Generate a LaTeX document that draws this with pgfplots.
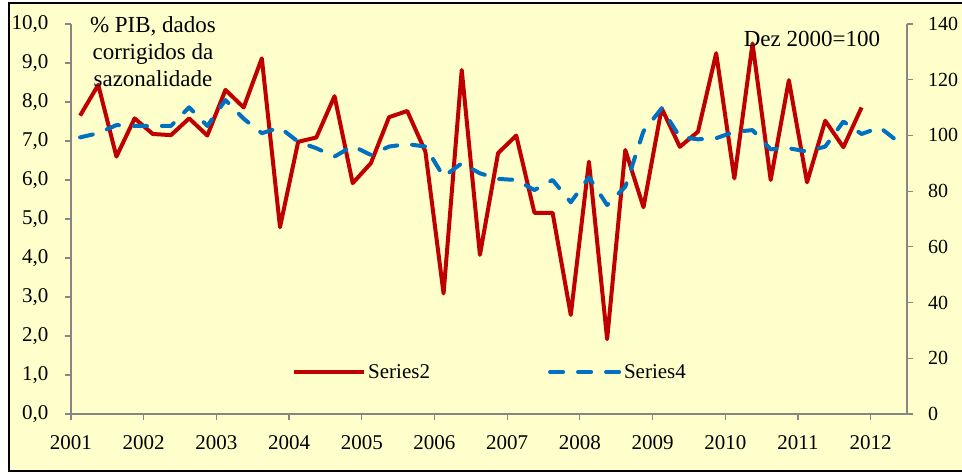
\documentclass[border=0pt]{standalone}
\usepackage{fontspec}
\setmainfont{Liberation Serif}
\usepackage{pgfplots}
\usepackage{pgfplotstable}
\pgfplotsset{compat=1.18}
\definecolor{bg}{HTML}{FFFFCC}
\definecolor{sred}{HTML}{C00000}
\definecolor{sblue}{HTML}{0070C0}
\definecolor{axgray}{HTML}{868686}

\pgfplotstableread{
x y
0.5 7.65
1.5 8.44
2.5 6.60
3.5 7.58
4.5 7.18
5.5 7.15
6.5 7.58
7.5 7.14
8.5 8.31
9.5 7.86
10.5 9.12
11.5 4.79
12.5 6.98
13.5 7.09
14.5 8.15
15.5 5.92
16.5 6.43
17.5 7.61
18.5 7.77
19.5 6.73
20.5 3.09
21.5 8.82
22.5 4.08
23.5 6.69
24.5 7.14
25.5 5.16
26.5 5.16
27.5 2.54
28.5 6.47
29.5 1.92
30.5 6.77
31.5 5.30
32.5 7.84
33.5 6.85
34.5 7.24
35.5 9.25
36.5 6.04
37.5 9.50
38.5 6.00
39.5 8.56
40.5 5.94
41.5 7.52
42.5 6.84
43.5 7.86
}\redtab

\pgfplotstableread{
x y
0.5 99.3
1.5 100.8
2.5 103.7
3.5 103.4
4.5 103.4
5.5 103.4
6.5 110.1
7.5 103.4
8.5 112.7
9.5 106.0
10.5 100.8
11.5 102.8
12.5 97.7
13.5 95.4
14.5 92.4
15.5 96.2
16.5 93.0
17.5 96.0
18.5 96.9
19.5 96.0
20.5 85.2
21.5 90.0
22.5 86.4
23.5 84.4
24.5 84.0
25.5 80.4
26.5 84.0
27.5 76.0
28.5 85.0
29.5 75.0
30.5 81.6
31.5 101.5
32.5 109.7
33.5 99.5
34.5 98.6
35.5 99.0
36.5 101.3
37.5 101.9
38.5 95.0
39.5 95.4
40.5 94.2
41.5 96.0
42.5 105.0
43.5 100.5
44.5 102.9
45.5 97.8
}\bluetab

\pgfplotsset{mybase/.style={
  scale only axis, width=836pt, height=390pt,
  at={(0pt,0pt)}, anchor=south west,
  xmin=0, xmax=46,
  axis line style={axgray, line width=1.2pt, -},
  tick style={axgray, line width=1.2pt},
  major tick length=6pt, tick align=outside,
  tick label style={font=\fontsize{21}{21}\selectfont, text=black},
  /pgf/number format/assume math mode=true,
}}

\begin{document}
\begin{tikzpicture}
\useasboundingbox (-71pt,-60pt) rectangle (891pt,414pt);
\fill[bg] (-62pt,-57pt) rectangle (900pt,411pt);
\draw[black, line width=2.5pt] (-62pt,-57pt) rectangle (900pt,411pt);

\begin{axis}[mybase,
  axis x line*=bottom, axis y line*=left,
  ymin=0, ymax=10, ytick={0,1,...,10},
  xtick={0,4,...,44},
  xticklabels={2001,2002,2003,2004,2005,2006,2007,2008,2009,2010,2011,2012},
  xticklabel style={yshift=-12pt},
  yticklabel style={xshift=-13pt, /pgf/number format/.cd, fixed, fixed zerofill, precision=1, use comma},
]
\addplot[sred, line width=4pt, line join=round] table {\redtab};
\end{axis}

\begin{axis}[mybase,
  axis x line=none, axis y line*=right,
  ymin=0, ymax=140, ytick={0,20,...,140},
  yticklabel style={inner sep=0pt, xshift=15pt, font=\fontsize{20}{20}\selectfont},
  legend columns=2,
  legend image code/.code={\draw[#1] (0pt,0pt) -- (70pt,0pt);},
  legend style={draw=none, fill=none, inner sep=0pt, at={(0.2644,0.1077)}, anchor=west,
    font=\fontsize{21}{21}\selectfont,
    /tikz/every even column/.append style={column sep=116pt}},
]
\addlegendimage{sred, line width=4pt}
\addlegendentry{Series2}
\addplot[sblue, line width=4pt, dash pattern=on 13pt off 15pt, line cap=round, line join=round] table {\bluetab};
\addlegendentry{Series4}
\end{axis}

\node[align=center, font=\fontsize{23}{27}\selectfont, anchor=north, inner sep=0pt] at (82pt,398pt) {\% PIB, dados\\corrigidos da\\sazonalidade};
\node[font=\fontsize{23}{27}\selectfont, anchor=base, inner sep=0pt] at (741pt,367pt) {Dez 2000=100};
\end{tikzpicture}
\end{document}
